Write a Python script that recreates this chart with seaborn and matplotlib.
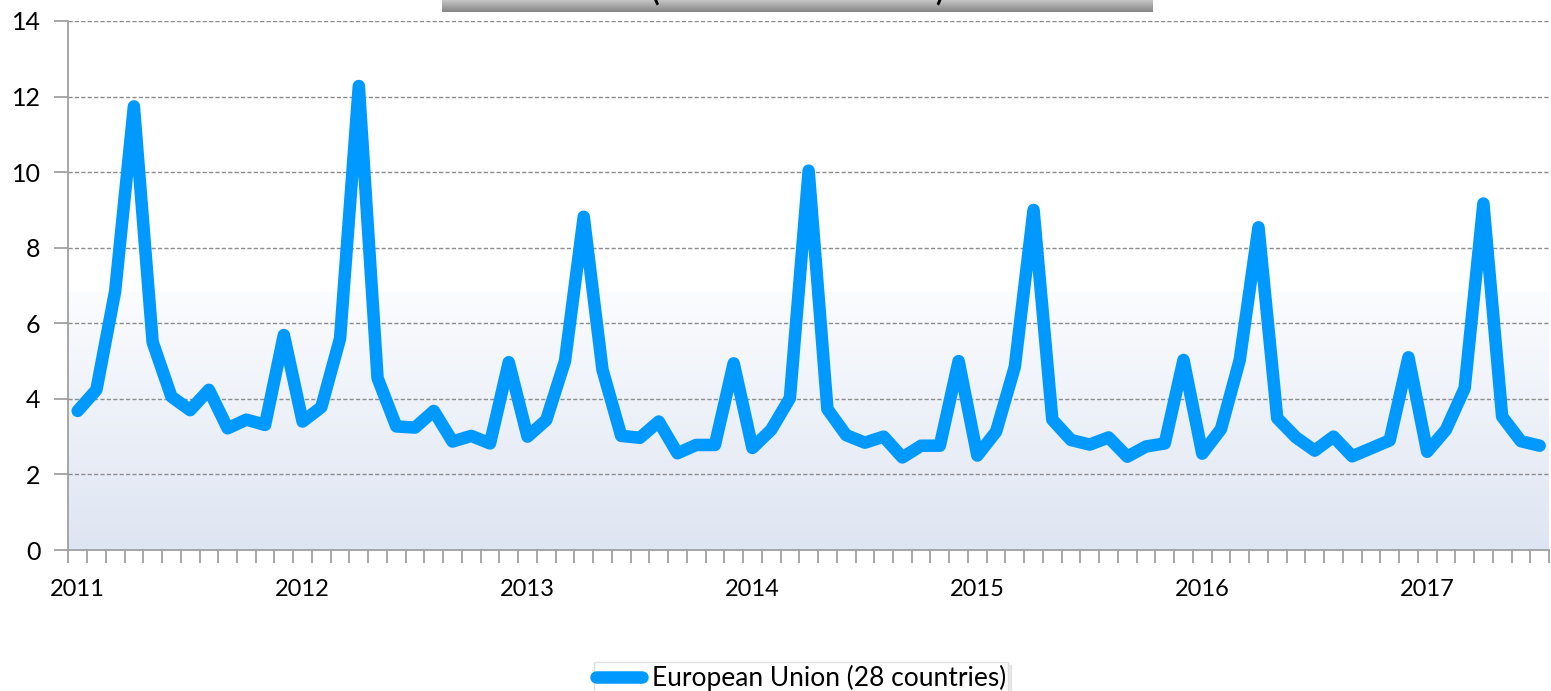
import numpy as np
import pandas as pd
import matplotlib
matplotlib.use("Agg")
import matplotlib.pyplot as plt
import seaborn as sns
from matplotlib.colors import LinearSegmentedColormap

# ---- data ----
year_labels = ["2011", "2012", "2013", "2014", "2015", "2016", "2017"]
series_name = "European Union (28 countries)"
values_2011 = [3.68, 4.24, 6.85, 11.74, 5.50, 4.06, 3.70, 4.24, 3.22, 3.45, 3.31, 5.69]
values_2012 = [3.40, 3.78, 5.60, 12.28, 4.55, 3.27, 3.24, 3.68, 2.87, 3.02, 2.82, 4.97]
values_2013 = [3.00, 3.44, 5.00, 8.82, 4.77, 3.02, 2.97, 3.40, 2.56, 2.78, 2.78, 4.94]
values_2014 = [2.70, 3.18, 4.02, 10.04, 3.73, 3.04, 2.84, 3.00, 2.45, 2.76, 2.76, 5.00]
values_2015 = [2.50, 3.13, 4.85, 9.00, 3.45, 2.91, 2.79, 2.98, 2.47, 2.74, 2.82, 5.03]
values_2016 = [2.55, 3.20, 5.03, 8.54, 3.49, 2.98, 2.63, 3.00, 2.48, 2.69, 2.90, 5.10]
values_2017 = [2.60, 3.18, 4.28, 9.17, 3.53, 2.88, 2.76]

values = (values_2011 + values_2012 + values_2013 + values_2014 +
          values_2015 + values_2016 + values_2017)
df = pd.DataFrame({"month": np.arange(len(values)), "value": values})

# ---- style ----
sns.set_theme(style="white")
plt.rcParams["font.family"] = ["Lato", "DejaVu Sans"]

W, H = 1551, 691
fig = plt.figure(figsize=(W / 100, H / 100), dpi=100)
fig.patch.set_facecolor("white")

x0, x1, ytop, ybot = 68.3, 1549, 21, 550
ax = fig.add_axes([x0 / W, 1 - ybot / H, (x1 - x0) / W, (ybot - ytop) / H])
ax.set_facecolor("white")

# background gradient in lower part of plot area
grad_cmap = LinearSegmentedColormap.from_list("bg", ["#fbfcfe", "#dee5f2"])
grad = np.linspace(0, 1, 256).reshape(-1, 1)
ax.imshow(grad, cmap=grad_cmap, aspect="auto", extent=(0, 1, 0, 0.486),
          transform=ax.transAxes, zorder=0, interpolation="bicubic")

sns.lineplot(data=df, x="month", y="value", ax=ax, color="#0099FF", lw=9.0,
             label=series_name, solid_capstyle="round", solid_joinstyle="round",
             zorder=3)

ax.set_xlim(-0.5, len(values) - 0.5)
ax.set_ylim(0, 14)
ax.set_yticks(np.arange(0, 15, 2))
ax.set_yticklabels([str(v) for v in range(0, 15, 2)])

ax.set_axisbelow(True)
ax.yaxis.grid(True, linestyle=(0, (3, 1.6)), color="#8c8c8c", lw=1.0, zorder=1)
ax.xaxis.grid(False)

# boundary ticks (major) and year labels (minor)
ax.set_xticks(np.arange(-0.5, len(values), 1))
ax.set_xticklabels([])
ax.set_xticks(np.arange(0, len(values), 12), minor=True)
ax.set_xticklabels(year_labels, minor=True)
ax.tick_params(axis="x", which="major", bottom=True, length=9, width=1.3,
               color="#a0a0a0", direction="out")
ax.tick_params(axis="x", which="minor", bottom=True, length=0, pad=21,
               labelsize=17, labelcolor="black")
ax.tick_params(axis="y", left=True, length=10, width=1.3, color="#a0a0a0",
               direction="out", pad=10, labelsize=18, labelcolor="black")

ax.set_xlabel("")
ax.set_ylabel("")
for s in ["top", "right"]:
    ax.spines[s].set_visible(False)
for s in ["left", "bottom"]:
    ax.spines[s].set_color("#a0a0a0")
    ax.spines[s].set_linewidth(1.3)

# legend
leg = ax.legend(loc="upper center", bbox_to_anchor=(801 / W, 1 - 662 / H),
                bbox_transform=fig.transFigure, fontsize=19,
                handlelength=1.75, handletextpad=0.35, borderpad=0.1,
                borderaxespad=0, frameon=True, fancybox=False,
                edgecolor="#e0e0e0",
                shadow={"color": "#b0b0b0", "alpha": 0.25, "ox": 2, "oy": -2})
leg.get_frame().set_linewidth(1.0)
for t in leg.get_texts():
    t.set_color("black")

# partially visible title box at top
tax = fig.add_axes([442 / W, 1 - 12 / H, 711 / W, 12 / H])
title_cmap = LinearSegmentedColormap.from_list("tb", ["#c6c6c6", "#858585"])
tax.imshow(grad, cmap=title_cmap, aspect="auto", extent=(0, 1, 0, 1))
tax.set_axis_off()
fig.text(656 / W, 1 - 1.5 / H, "(", ha="center", va="baseline",
         fontsize=20, fontweight="bold", color="black")
fig.text(939 / W, 1 - 1.5 / H, ")", ha="center", va="baseline",
         fontsize=20, fontweight="bold", color="black")

fig.savefig("out.png", dpi=100, facecolor="white")
